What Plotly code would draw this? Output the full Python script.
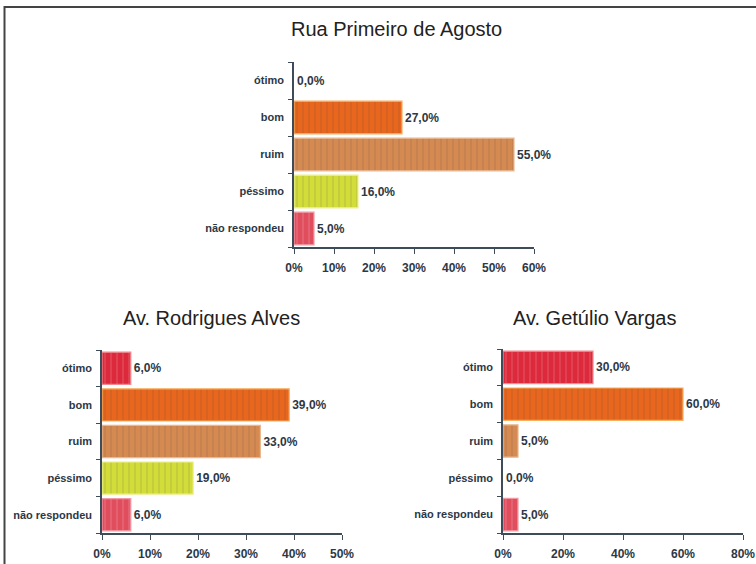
import plotly.graph_objects as go

# Survey answers per street (percent of respondents)
categories = ["ótimo", "bom", "ruim", "péssimo", "não respondeu"]

rua_primeiro = [0.0, 27.0, 55.0, 16.0, 5.0]
av_rodrigues = [6.0, 39.0, 33.0, 19.0, 6.0]
av_getulio = [30.0, 60.0, 5.0, 0.0, 5.0]

titles = ["Rua Primeiro de Agosto", "Av. Rodrigues Alves", "Av. Getúlio Vargas"]
x_max = [60, 50, 80]
x_step = [10, 10, 20]

bar_colors = ["#dc2a3c", "#e8661e", "#d58a52", "#d3dd3a", "#e04e5e"]
bar_edges = ["#f08a90", "#f6b060", "#e8b890", "#eef090", "#f29aa4"]

W, H = 756, 564

# plot areas in pixels: (left, right, top, bottom)
areas = [
    (294, 534, 62, 247),
    (102, 342, 350, 533),
    (503, 743, 349, 533),
]

axis_color = "#3e4c5a"
text_color = "#2c3845"
font_family = "Liberation Sans, Arial, sans-serif"

fig = go.Figure()
layout_axes = {}

for i, (vals, area) in enumerate(zip([rua_primeiro, av_rodrigues, av_getulio], areas)):
    n = i + 1
    xa = "x" if n == 1 else f"x{n}"
    ya = "y" if n == 1 else f"y{n}"
    left, right, top, bottom = area
    # empty bars get no outline so nothing shows at the axis
    edge_widths = [1.2 if v > 0 else 0 for v in vals]
    fig.add_trace(go.Bar(
        x=vals,
        y=categories,
        orientation="h",
        xaxis=xa,
        yaxis=ya,
        marker=dict(
            color=bar_colors,
            line=dict(color=bar_edges, width=edge_widths),
            pattern=dict(shape="|", fgcolor="#ffffff", fgopacity=0.18, size=6,
                         solidity=0.2, fillmode="overlay"),
        ),
        width=0.88,
        text=vals,
        texttemplate="%{x:.1f}%",
        textposition="outside",
        cliponaxis=False,
        textfont=dict(family=font_family, size=12, color=text_color, weight="bold"),
        hoverinfo="skip",
        showlegend=False,
    ))
    layout_axes["xaxis" if n == 1 else f"xaxis{n}"] = dict(
        domain=[left / W, right / W],
        anchor=ya,
        range=[0, x_max[i]],
        dtick=x_step[i],
        tick0=0,
        ticksuffix="%",
        showgrid=False,
        zeroline=False,
        showline=True,
        linecolor=axis_color,
        linewidth=1.5,
        ticks="outside",
        ticklen=5,
        tickcolor=axis_color,
        ticklabelstandoff=4,
        tickfont=dict(family=font_family, size=12, color=text_color, weight="bold"),
        automargin=False,
        fixedrange=True,
    )
    layout_axes["yaxis" if n == 1 else f"yaxis{n}"] = dict(
        domain=[1 - bottom / H, 1 - top / H],
        anchor=xa,
        type="category",
        categoryorder="array",
        categoryarray=categories[::-1],
        showgrid=False,
        zeroline=False,
        showline=True,
        linecolor=axis_color,
        linewidth=1.5,
        ticks="outside",
        tickson="boundaries",
        ticklen=4,
        tickcolor=axis_color,
        ticklabelstandoff=6,
        tickfont=dict(family=font_family, size=11, color=text_color, weight="bold"),
        automargin=False,
        fixedrange=True,
    )

title_pos = [(396, 29), (211, 318), (594, 318)]
annotations = [
    dict(text=t, x=px / W, y=1 - py / H, xref="paper", yref="paper",
         xanchor="center", yanchor="middle", showarrow=False,
         font=dict(family=font_family, size=20, color="#222222"))
    for t, (px, py) in zip(titles, title_pos)
]

# frame lines along the top and left edges
shapes = [
    dict(type="line", xref="paper", yref="paper",
         x0=4 / W, x1=1, y0=1 - 7 / H, y1=1 - 7 / H,
         line=dict(color="#444444", width=2)),
    dict(type="line", xref="paper", yref="paper",
         x0=4.5 / W, x1=4.5 / W, y0=0, y1=1 - 6 / H,
         line=dict(color="#444444", width=2)),
]

fig.update_layout(
    width=W,
    height=H,
    margin=dict(l=0, r=0, t=0, b=0, autoexpand=False),
    paper_bgcolor="white",
    plot_bgcolor="white",
    separators=",.",
    annotations=annotations,
    shapes=shapes,
    **layout_axes,
)

fig.write_html("out.html")
